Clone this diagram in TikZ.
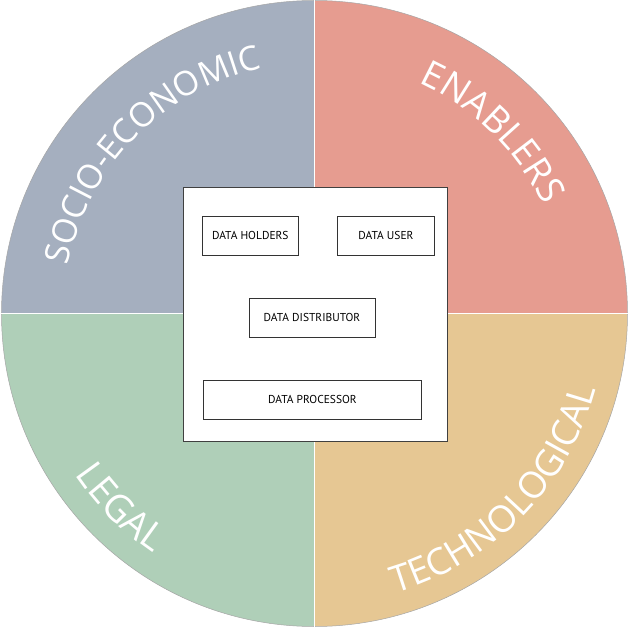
\documentclass[tikz,border=0pt]{standalone}
\usepackage{fontspec}
\setmainfont{Open Sans}
\newfontfamily\ringFont{Open Sans}
\newfontfamily\roleFont{PT Sans}
\usetikzlibrary{decorations.text}
\definecolor{socioEconomic}{HTML}{A5AFBF}
\definecolor{enablers}{HTML}{E69C90}
\definecolor{technological}{HTML}{E6C793}
\definecolor{legal}{HTML}{AFCFB8}

\begin{document}
\begin{tikzpicture}[
  x=1bp,
  y=1bp,
  ring label/.style={
    decorate,
    decoration={
      text along path,
      text align=center,
      text color=white,
    },
  },
  panel box/.style={
    draw=black!75,
    line width=0.8bp,
    fill=white,
    inner sep=0pt,
  },
  role box/.style={
    draw=black!80,
    line width=0.7bp,
    minimum height=39bp,
    inner sep=0pt,
    font=\roleFont\fontsize{11.5}{13}\selectfont,
  }
]
\useasboundingbox (-314.5,-315.5) rectangle (314.5,313.5);
\fill[socioEconomic] (0,0) -- (180:313) arc[start angle=180, end angle=90, radius=313] -- cycle;
\fill[enablers] (0,0) -- (90:313) arc[start angle=90, end angle=0, radius=313] -- cycle;
\fill[technological] (0,0) -- (0:313) arc[start angle=0, end angle=-90, radius=313] -- cycle;
\fill[legal] (0,0) -- (270:313) arc[start angle=270, end angle=180, radius=313] -- cycle;
\draw[black!35, line width=0.5bp] (0,0) circle[radius=313];
\draw[white, line width=1.6bp] (0,313.5) -- (0,-313.5);
\draw[white, line width=1.6bp] (-313.5,0) -- (313.5,0);
% curved labels
\path[ring label, decoration={text={|\ringFont\fontsize{34}{40}\selectfont|SOCIO-ECONOMIC}}]
  (179.5:251) arc[start angle=179.5, end angle=91.5, radius=251];
\path[ring label, decoration={text={|\ringFont\fontsize{37}{44}\selectfont|ENABLERS}}]
  (90:253) arc[start angle=90, end angle=1, radius=253];
\path[ring label, decoration={text={|\ringFont\fontsize{38}{44}\selectfont|LEGAL}}]
  (195:289) arc[start angle=195, end angle=255, radius=289];
\path[ring label, decoration={text={|\ringFont\fontsize{37}{42}\selectfont|TECHNOLOGICAL}}]
  (270:291) arc[start angle=270, end angle=361, radius=291];
% data roles
\node[panel box, minimum width=264bp, minimum height=254bp] (panel) at (0.5,-0.5) {};
\node[role box, minimum width=96.7bp] (holders) at (-64.2,77.9) {DATA HOLDERS};
\node[role box, minimum width=97.4bp] (user) at (71.5,77.9) {DATA USER};
\node[role box, minimum width=126bp] (distributor) at (-2.5,-4.3) {DATA DISTRIBUTOR};
\node[role box, minimum width=218.4bp] (processor) at (-2,-86.3) {DATA PROCESSOR};
\end{tikzpicture}
\end{document}
